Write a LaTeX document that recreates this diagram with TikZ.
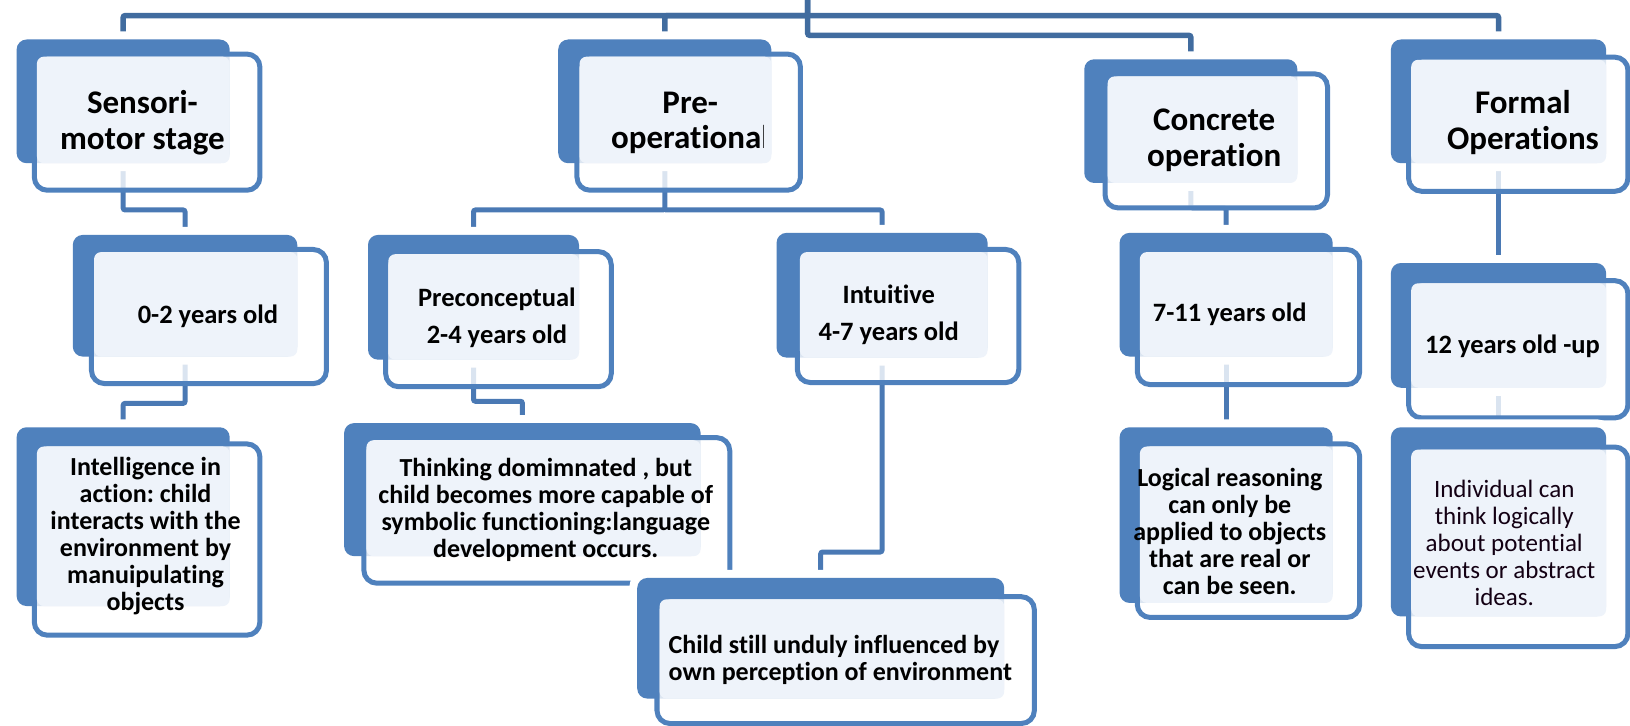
\documentclass[tikz,border=0pt]{standalone}
\usepackage{fontspec}
\setmainfont{Carlito}[Ligatures=NoCommon]
\frenchspacing
\usetikzlibrary{fit,calc}
\pgfdeclarelayer{bg}
\pgfsetlayers{bg,main}
\definecolor{stageblue}{HTML}{4F81BD}
\definecolor{lightfill}{HTML}{EEF3FA}
\definecolor{connblue}{HTML}{4A79B4}
\definecolor{rootblue}{HTML}{416C9F}
\newcommand\stagebox[9]{%
  \coordinate (#1-b1) at (#2,#3);
  \coordinate (#1-b2) at (#4,#5);
  \coordinate (#1-f1) at (#6,#7);
  \coordinate (#1-f2) at (#8,#9);
  \node[backbox, fit=(#1-b1)(#1-b2)] (#1-b) {};
  \node[frontbox, fit=(#1-f1)(#1-f2)] (#1-f) {};
  \coordinate (#1-l1) at ($(#1-f1)+(2.5,2.5)$);
  \node[lightbox, fit=(#1-l1)(#1-b2)] (#1-l) {};
}
\begin{document}
\begin{tikzpicture}[x=1.0395pt,y=-1.0395pt,
  backbox/.style={rectangle, inner sep=0pt, rounded corners=10pt, fill=stageblue,
    preaction={draw=white, line width=16pt}},
  frontbox/.style={rectangle, inner sep=0pt, rounded corners=13pt, draw=stageblue,
    line width=5pt, fill=white, fill opacity=0.8},
  lightbox/.style={rectangle, inner sep=0pt, rounded corners=7pt, fill=lightfill},
  conn/.style={draw=connblue, line width=5pt, rounded corners=2pt},
  rootline/.style={draw=rootblue, line width=5.5pt, rounded corners=2pt},
  ttl/.style={font=\fontsize{33}{35.5}\selectfont\bfseries, align=center, inner sep=0pt, text=black},
  sub/.style={font=\fontsize{26.5}{37}\selectfont\bfseries, align=center, inner sep=0pt, text=black},
  dsc/.style={font=\fontsize{26}{27}\selectfont\bfseries, align=center, inner sep=0pt, text=black},
  dscr/.style={font=\fontsize{25}{27}\selectfont, align=center, inner sep=0pt, text=black!85!violet},
]
\useasboundingbox (0,0) rectangle (1568,698);

% boxes
\stagebox{sm}{16}{38}{221}{157}{33}{52}{250}{183}
\stagebox{pre}{537}{38}{742}{157}{555}{52}{770}{183}
\stagebox{co}{1043}{57}{1248}{176}{1063}{71}{1277}{200}
\stagebox{fo}{1338}{38}{1545}{157}{1355}{55}{1566}{184}
\stagebox{z2}{70}{226}{286}{343}{88}{240}{314}{369}
\stagebox{pc}{354}{226}{557}{346}{371}{242}{588}{372}
\stagebox{it}{747}{224}{950}{344}{767}{240}{980}{368}
\stagebox{s7}{1077}{224}{1282}{343}{1094}{240}{1308}{370}
\stagebox{tw}{1338}{253}{1545}{373}{1355}{270}{1566}{402}
\stagebox{in}{16}{411}{221}{583}{33}{427}{250}{611}
\stagebox{th}{331}{407}{674}{535}{350}{421}{702}{561}
\stagebox{ch}{613}{556}{966}{672}{632}{574}{995}{696}
\stagebox{lo}{1077}{411}{1282}{580}{1094}{427}{1308}{594}
\stagebox{id}{1338}{411}{1545}{593}{1355}{430}{1566}{622}

% texts
\node[ttl] (sm-t) at (137,118) {Sensori-\\motor stage};
\begin{scope}
  \clip (pre-l.north west) rectangle ($(pre-l.south east)+(-7.5,0)$);
  \node[ttl] (pre-t) at (664,118) {Pre-\\operational};
\end{scope}
\node[ttl] (co-t) at (1168,135) {Concrete\\operation};
\node[ttl] (fo-t) at (1465,118) {Formal\\Operations};
\node[sub] (z2-t) at (200,304) {0-2 years old};
\node[sub] (pc-t) at (478,306) {Preconceptual\\2-4 years old};
\node[sub] (it-t) at (855,303) {Intuitive\\4-7 years old};
\node[sub] (s7-t) at (1183,302) {7-11 years old};
\node[sub] (tw-t) at (1455,333) {12 years old -up};
\node[dsc] (in-t) at (140,516) {Intelligence in\\action: child\\interacts with the\\environment by\\manuipulating\\objects};
\node[dsc] (th-t) at (525,491) {Thinking domimnated , but\\child becomes more capable of\\symbolic functioning:language\\development occurs.};
\node[dsc, align=left, anchor=west] (ch-t) at (643,635) {Child still unduly influenced by\\own perception of environment};
\node[dsc] (lo-t) at (1183,511) {Logical reasoning\\can only be\\applied to objects\\that are real or\\can be seen.};
\node[dscr] (id-t) at (1447,522) {Individual can\\think logically\\about potential\\events or abstract\\ideas.};

% connectors
\begin{pgfonlayer}{bg}
  \coordinate (root) at (777,-5);
  \coordinate (e15) at (0,15);
  \coordinate (e34) at (0,34);
  \coordinate (e202) at (0,202);
  \coordinate (e200) at (0,200);
  \coordinate (e388) at (0,388);
  \coordinate (e386) at (0,386);
  \coordinate (e531) at (0,531);
  \draw[rootline] (root) -- (root |- e15) -| (sm-b.north);
  \draw[rootline] (root |- e15) -| (pre-b.north);
  \draw[rootline] (root |- e15) -| (fo-b.north);
  \draw[rootline] (root) -- (root |- e34) -| (co-b.north);
  \draw[conn] (sm-b.south) -- (sm-b.south |- e202) -| (z2-b.north);
  \draw[conn] (z2-b.south) -- (z2-b.south |- e388) -| (in-b.north);
  \draw[conn] (pre-b.south) -- (pre-b.south |- e202) -| (pc-b.north);
  \draw[conn] (pre-b.south |- e202) -| (it-b.north);
  \draw[conn] (pc-b.south) -- (pc-b.south |- e386) -| (th-b.north);
  \draw[conn] (it-b.south) -- (it-b.south |- e531) -| (ch-b.north);
  \draw[conn] (co-b.south) -- (co-b.south |- e200) -| (s7-b.north);
  \draw[conn] (s7-b.south) -- (lo-b.north);
  \draw[conn] (fo-b.south) -- (tw-b.north);
  \draw[conn] (tw-b.south) -- (id-b.north);
\end{pgfonlayer}
\end{tikzpicture}
\end{document}
